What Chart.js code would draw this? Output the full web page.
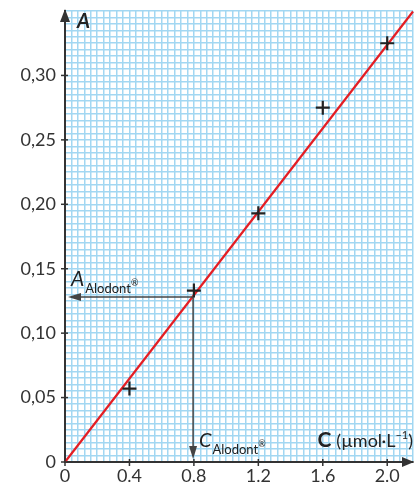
<!DOCTYPE html>
<html>
<head>
<meta charset="utf-8">
<script src="https://cdn.jsdelivr.net/npm/chart.js@4"></script>
<style>
  html, body { margin: 0; padding: 0; background: #fff; }
  #wrap { width: 414px; height: 486px; }
</style>
</head>
<body>
<div id="wrap"><canvas id="myChart"></canvas></div>
<script>
// measured points (C in µmol/L, A)
const concentrations = [0.4, 0.8, 1.2, 1.6, 2.0];
const absorbances = [0.057, 0.133, 0.193, 0.275, 0.325];
// fitted straight line through origin
const fitC = [0, 2.16];
const fitA = [0, 0.3496];
// reading of the unknown sample
const sampleC = 0.795;
const sampleA = 0.128;
const xTickLabels = ['0', '0.4', '0.8', '1.2', '1.6', '2.0'];
const yTickLabels = ['0', '0,05', '0,10', '0,15', '0,20', '0,25', '0,30'];

const ink = '#333';
const fontFam = 'Lato, "Open Sans", sans-serif';

function isMult(v, step) {
  const r = v / step;
  return Math.abs(r - Math.round(r)) < 1e-6;
}

// draws pieces of text one after another starting at x
function runText(c, x, parts) {
  parts.forEach(p => {
    c.font = p.font;
    c.fillText(p.text, x, p.y);
    x += c.measureText(p.text).width + (p.gap || 0);
  });
  return x;
}
function runWidth(c, parts) {
  let w = 0;
  parts.forEach(p => { c.font = p.font; w += c.measureText(p.text).width + (p.gap || 0); });
  return w;
}

const extras = {
  id: 'extras',
  afterDraw(chart) {
    const c = chart.ctx;
    const xs = chart.scales.x, ys = chart.scales.y;
    const x0 = xs.getPixelForValue(0), y0 = ys.getPixelForValue(0);
    const area = chart.chartArea;
    c.save();
    c.fillStyle = ink;
    c.strokeStyle = ink;

    // small tick marks on the axes
    c.lineWidth = 1.5;
    xTickLabels.forEach(t => {
      const px = xs.getPixelForValue(parseFloat(t));
      c.beginPath(); c.moveTo(px, y0 - 3); c.lineTo(px, y0 + 4); c.stroke();
    });
    yTickLabels.forEach(t => {
      const py = ys.getPixelForValue(parseFloat(t.replace(',', '.')));
      c.beginPath(); c.moveTo(x0 - 4, py); c.lineTo(x0 + 3, py); c.stroke();
    });

    // axis arrows
    c.beginPath();
    c.moveTo(x0, area.top - 2); c.lineTo(x0 - 5, area.top + 11); c.lineTo(x0 + 5, area.top + 11);
    c.closePath(); c.fill();
    c.beginPath();
    c.moveTo(414, y0); c.lineTo(402, y0 - 5); c.lineTo(402, y0 + 5);
    c.closePath(); c.fill();

    // reading arrows
    const sx = xs.getPixelForValue(sampleC), sy = ys.getPixelForValue(sampleA);
    c.strokeStyle = '#444'; c.fillStyle = '#444';
    c.lineWidth = 1.5;
    c.beginPath(); c.moveTo(sx, sy); c.lineTo(x0 + 6, sy); c.stroke();
    c.beginPath(); c.moveTo(x0 + 3, sy); c.lineTo(x0 + 16, sy - 4); c.lineTo(x0 + 16, sy + 4); c.closePath(); c.fill();
    c.beginPath(); c.moveTo(sx, sy); c.lineTo(sx, y0 - 6); c.stroke();
    c.beginPath(); c.moveTo(sx, y0 - 3); c.lineTo(sx - 4, y0 - 16); c.lineTo(sx + 4, y0 - 16); c.closePath(); c.fill();

    // texts
    c.fillStyle = '#222';
    c.textBaseline = 'alphabetic';
    c.textAlign = 'left';
    c.font = 'italic bold 20px ' + fontFam;
    c.fillText('A', x0 + 12, area.top + 17);

    runText(c, 71, [
      { text: 'A', font: 'italic 21px ' + fontFam, y: 286, gap: 1 },
      { text: 'Alodont', font: '13px ' + fontFam, y: 293 },
      { text: '®', font: '9px ' + fontFam, y: 286 }
    ]);
    runText(c, 199, [
      { text: 'C', font: 'italic 20px ' + fontFam, y: 447, gap: 1 },
      { text: 'Alodont', font: '13px ' + fontFam, y: 454 },
      { text: '®', font: '9px ' + fontFam, y: 447 }
    ]);

    const title = [
      { text: 'C', font: 'bold 21px ' + fontFam, y: 447, gap: 5 },
      { text: '(µmol·L', font: '18px ' + fontFam, y: 447 },
      { text: '–1', font: '11px ' + fontFam, y: 439 },
      { text: ')', font: '18px ' + fontFam, y: 447 }
    ];
    runText(c, 413 - runWidth(c, title), title);
    c.restore();
  }
};

const gridBlue = '#a2d7f2';

new Chart(document.getElementById('myChart'), {
  type: 'scatter',
  data: {
    datasets: [
      {
        label: 'droite',
        type: 'line',
        data: fitC.map((c, i) => ({ x: c, y: fitA[i] })),
        borderColor: 'rgb(228, 30, 36)',
        borderWidth: 2.2,
        pointRadius: 0,
        fill: false,
        order: 2
      },
      {
        label: 'mesures',
        data: concentrations.map((c, i) => ({ x: c, y: absorbances[i] })),
        pointStyle: 'cross',
        pointRadius: 7,
        pointBorderWidth: 2.2,
        borderColor: '#222',
        backgroundColor: '#222',
        order: 1
      }
    ]
  },
  options: {
    responsive: true,
    maintainAspectRatio: false,
    animation: false,
    clip: false,
    layout: { autoPadding: false, padding: { top: 11, right: 1, left: 0, bottom: 0 } },
    plugins: { legend: { display: false }, tooltip: { enabled: false } },
    scales: {
      x: {
        type: 'linear',
        min: 0, max: 2.16,
        afterFit: s => { s.height = 24; s.paddingLeft = 0; s.paddingRight = 0; },
        border: { color: ink, width: 2 },
        grid: { drawTicks: false, color: gridBlue, lineWidth: 1.5 },
        ticks: {
          stepSize: 0.04,
          autoSkip: false,
          maxRotation: 0,
          padding: 3,
          color: ink,
          font: { family: fontFam, size: 18 },
          callback: v => (isMult(v, 0.4) ? xTickLabels[Math.round(v / 0.4)] : '')
        }
      },
      y: {
        min: 0, max: 0.35001,
        afterFit: s => { s.width = 65; s.paddingTop = 0; s.paddingBottom = 0; },
        border: { color: ink, width: 2 },
        grid: { drawTicks: false, color: gridBlue, lineWidth: 1.5 },
        ticks: {
          stepSize: 0.005,
          autoSkip: false,
          padding: 9,
          color: ink,
          font: { family: fontFam, size: 18 },
          callback: v => (isMult(v, 0.05) ? yTickLabels[Math.round(v / 0.05)] : '')
        }
      }
    }
  },
  plugins: [extras]
});
</script>
</body>
</html>
